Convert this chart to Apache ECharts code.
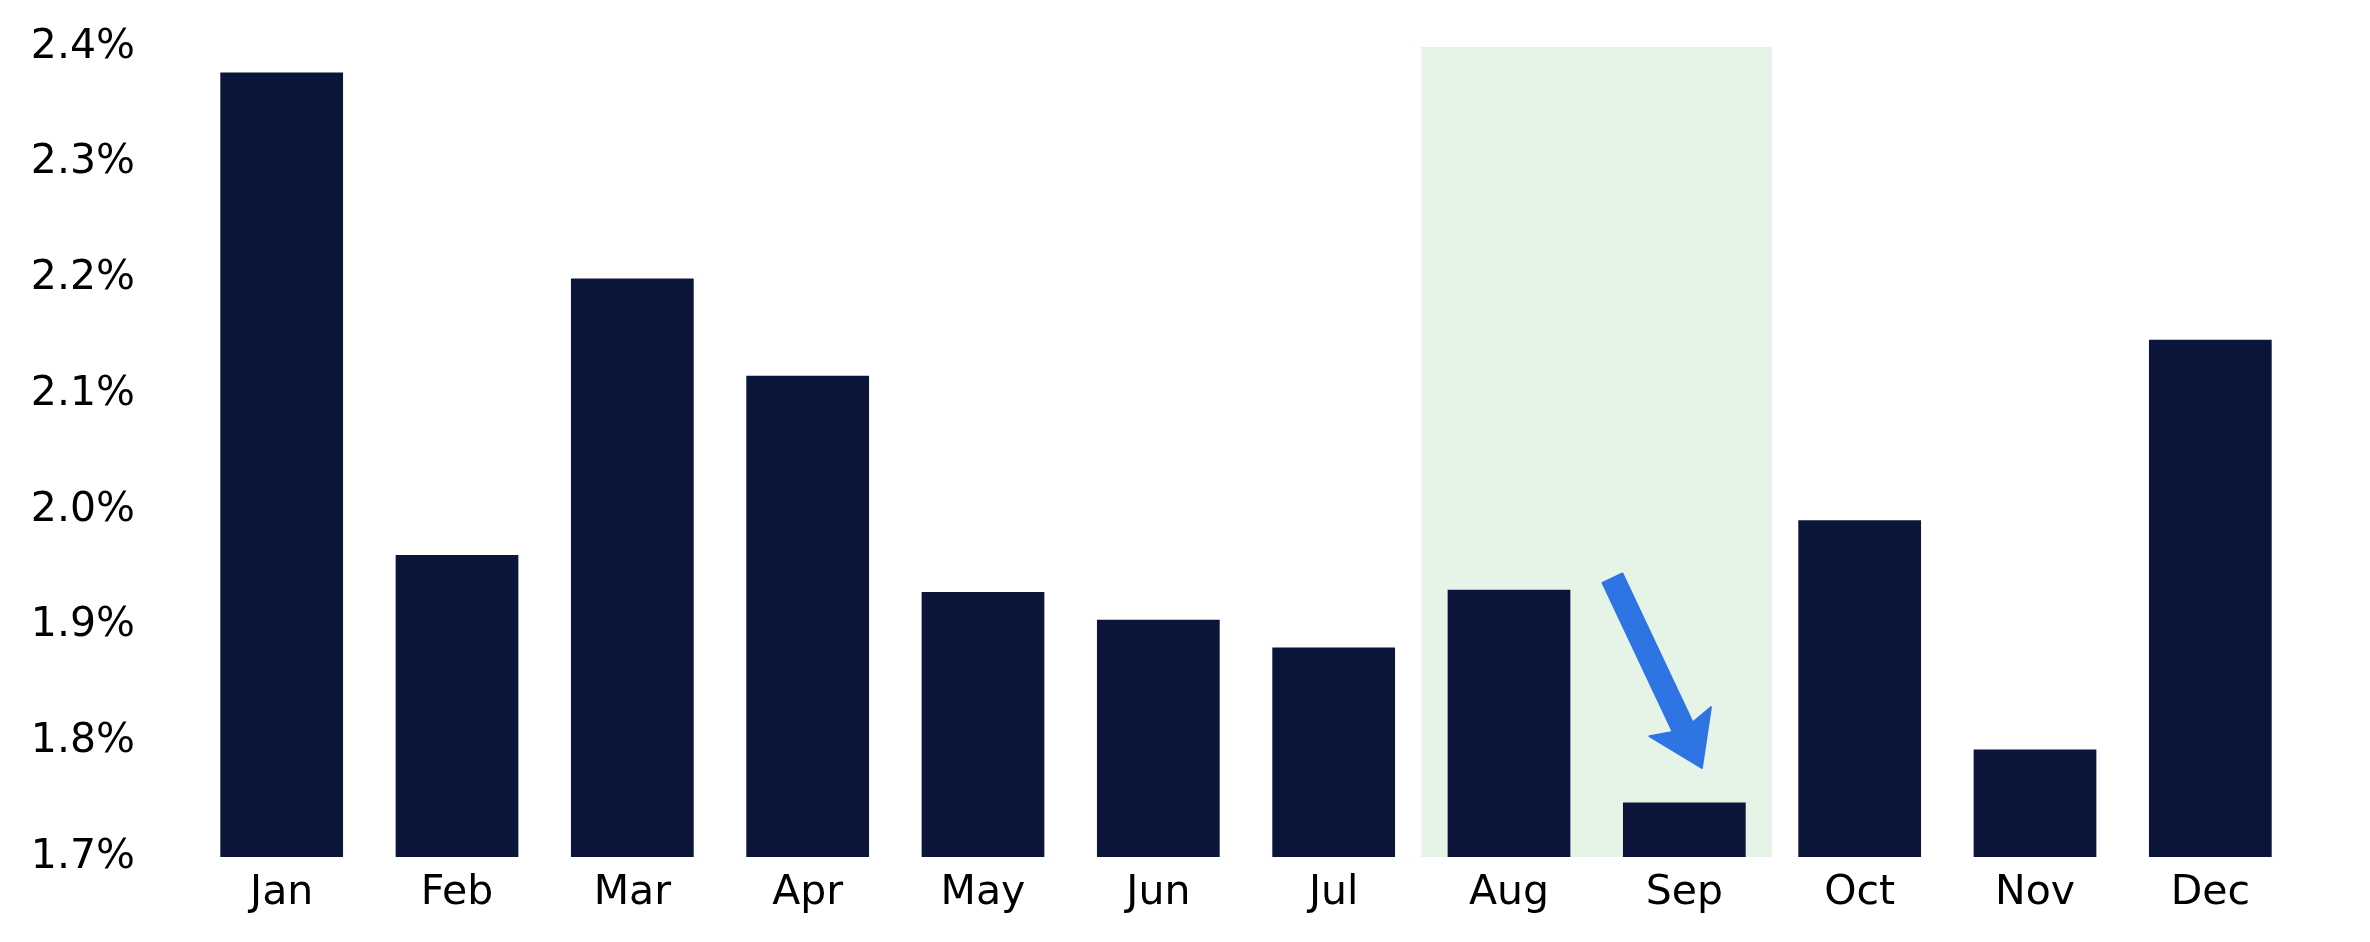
<!DOCTYPE html>
<html>
<head>
<meta charset="utf-8">
<script src="https://cdn.jsdelivr.net/npm/echarts@6/dist/echarts.min.js"></script>
<style>
  html, body { margin: 0; padding: 0; background: #fff; }
  #chart { width: 2370px; height: 942px; }
</style>
</head>
<body>
<div id="chart"></div>
<script>
var months = ['Jan', 'Feb', 'Mar', 'Apr', 'May', 'Jun', 'Jul', 'Aug', 'Sep', 'Oct', 'Nov', 'Dec'];
var rates = [2.378, 1.961, 2.200, 2.116, 1.929, 1.905, 1.881, 1.931, 1.747, 1.991, 1.793, 2.147];
var highlight = ['Aug', 'Sep'];
// arrow: [band offset from Sep centre, value]
var arrowFrom = [-0.41, 1.941];
var arrowTo = [0.10, 1.777];

var font = 'DejaVu Sans';
var myChart = echarts.init(document.getElementById('chart'));
var option = {
    animation: false,
    grid: { left: 194, right: 72, top: 47, bottom: 85 },
    xAxis: {
        type: 'category',
        data: months,
        axisLine: { show: false },
        axisTick: { show: false },
        axisLabel: { color: '#000', fontSize: 41, fontFamily: font, margin: 16 }
    },
    yAxis: {
        type: 'value',
        min: 1.7,
        max: 2.4,
        interval: 0.1,
        splitLine: { show: false },
        axisLine: { show: false },
        axisTick: { show: false },
        axisLabel: {
            color: '#000', fontSize: 41, fontFamily: font, margin: 59,
            padding: [6, 0, 0, 0],
            formatter: function (v) { return v.toFixed(1) + '%'; }
        }
    },
    series: [{
        type: 'bar',
        data: rates,
        barCategoryGap: '30%',
        itemStyle: { color: '#0B1439' },
        z: 3
    }]
};
myChart.setOption(option);

// shaded band and arrow placed through the axis scales
var c0 = myChart.convertToPixel({ xAxisIndex: 0 }, highlight[0]);
var c1 = myChart.convertToPixel({ xAxisIndex: 0 }, highlight[1]);
var band = myChart.convertToPixel({ xAxisIndex: 0 }, 'Oct') - c1;
var yTop = myChart.convertToPixel({ yAxisIndex: 0 }, 2.4);
var yBot = myChart.convertToPixel({ yAxisIndex: 0 }, 1.7);

var sx = myChart.convertToPixel({ xAxisIndex: 0 }, 'Sep');
var p0 = [sx + arrowFrom[0] * band, myChart.convertToPixel({ yAxisIndex: 0 }, arrowFrom[1])];
var p1 = [sx + arrowTo[0] * band, myChart.convertToPixel({ yAxisIndex: 0 }, arrowTo[1])];
var dx = p1[0] - p0[0], dy = p1[1] - p0[1];
var len = Math.sqrt(dx * dx + dy * dy);
var ux = dx / len, uy = dy / len, nx = -uy, ny = ux;
var shaftW = 11, headW = 34, headL = 45;
var bx = p1[0] - ux * headL, by = p1[1] - uy * headL;
var pts = [
    [p0[0] + nx * shaftW, p0[1] + ny * shaftW],
    [bx + nx * shaftW, by + ny * shaftW],
    [bx + nx * headW - ux * 6, by + ny * headW - uy * 6],
    [p1[0], p1[1]],
    [bx - nx * headW - ux * 6, by - ny * headW - uy * 6],
    [bx - nx * shaftW, by - ny * shaftW],
    [p0[0] - nx * shaftW, p0[1] - ny * shaftW]
];

myChart.setOption({
    graphic: [
        {
            type: 'rect',
            z: -1,
            silent: true,
            shape: { x: c0 - band / 2, y: yTop, width: c1 - c0 + band, height: yBot - yTop },
            style: { fill: '#E6F4E8' }
        },
        {
            type: 'polygon',
            z: 10,
            silent: true,
            shape: { points: pts },
            style: { fill: '#2E74E2', lineJoin: 'round', stroke: '#2E74E2', lineWidth: 2 }
        }
    ]
});
</script>
</body>
</html>
